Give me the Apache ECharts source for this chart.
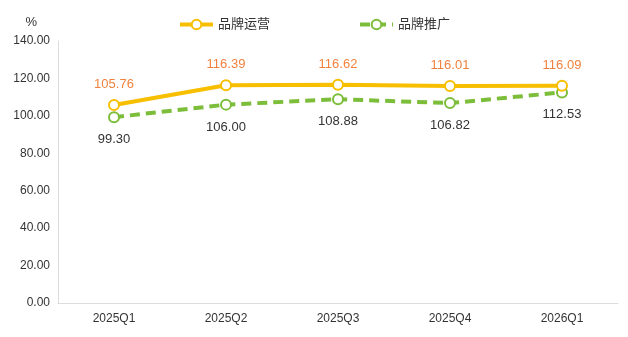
<!DOCTYPE html>
<html>
<head>
<meta charset="utf-8">
<script src="https://cdn.jsdelivr.net/npm/echarts@6/dist/echarts.min.js"></script>
<style>
html,body{margin:0;padding:0;background:#fff;}
#chart{width:628px;height:337px;}
</style>
</head>
<body>
<div id="chart"></div>
<script>
// Quarterly index values for the two series
const categories = ['2025Q1', '2025Q2', '2025Q3', '2025Q4', '2026Q1'];
const brandOps = [105.76, 116.39, 116.62, 116.01, 116.09];
const brandPromo = [99.30, 106.00, 108.88, 106.82, 112.53];
const seriesNames = ['品牌运营', '品牌推广'];

const chart = echarts.init(document.getElementById('chart'));
const font = 'Liberation Sans, Arial, "Noto Sans CJK SC", sans-serif';

chart.setOption({
  animation: false,
  textStyle: { fontFamily: font },
  legend: {
    top: 13,
    left: 'center',
    itemWidth: 33,
    itemHeight: 12,
    itemGap: 88,
    lineStyle: { width: 4 },
    textStyle: { fontSize: 13, color: '#333', fontFamily: font },
    data: seriesNames
  },
  grid: { left: 58, right: 10, top: 41, bottom: 34 },
  xAxis: {
    type: 'category',
    data: categories,
    boundaryGap: true,
    axisLine: { lineStyle: { color: '#dcdcdc', width: 1 } },
    axisTick: { show: false },
    axisLabel: { color: '#333', fontSize: 12, margin: 10 }
  },
  yAxis: {
    type: 'value',
    name: '%',
    nameGap: 12,
    nameTextStyle: { color: '#333', fontSize: 13, align: 'right', padding: [0, 21, 0, 0] },
    min: 0,
    max: 140,
    interval: 20,
    axisLine: { show: true, lineStyle: { color: '#dcdcdc', width: 1 } },
    axisTick: { show: false },
    splitLine: { show: false },
    axisLabel: {
      color: '#333',
      fontSize: 12,
      margin: 8,
      formatter: v => v.toFixed(2)
    }
  },
  series: [
    {
      name: seriesNames[0],
      type: 'line',
      data: brandOps,
      symbol: 'emptyCircle',
      symbolSize: 10,
      lineStyle: { color: '#f7bf00', width: 4 },
      itemStyle: { color: '#f7bf00', borderWidth: 2.5 },
      label: {
        show: true,
        position: 'top',
        distance: 8,
        color: '#f0823e',
        fontSize: 13,
        formatter: p => p.value.toFixed(2)
      },
      z: 3
    },
    {
      name: seriesNames[1],
      type: 'line',
      data: brandPromo,
      symbol: 'emptyCircle',
      symbolSize: 10,
      lineStyle: { color: '#7cbd3a', width: 4, type: [10, 6] },
      itemStyle: { color: '#7cbd3a', borderWidth: 2.5 },
      label: {
        show: true,
        position: 'bottom',
        distance: 10,
        color: '#333',
        fontSize: 13,
        formatter: p => p.value.toFixed(2)
      },
      z: 2
    }
  ]
});
</script>
</body>
</html>
